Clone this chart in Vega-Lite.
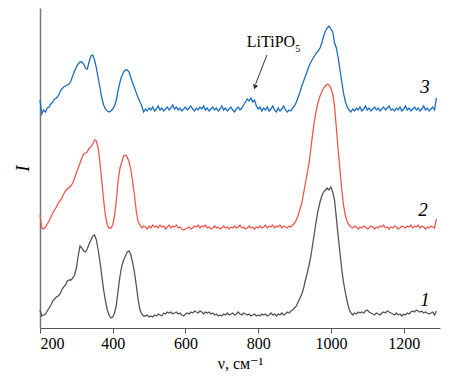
{
  "$schema": "https://vega.github.io/schema/vega-lite/v6.json",
  "width": 400,
  "height": 320,
  "autosize": {"type": "none"},
  "padding": {"left": 40, "top": 8, "right": 22, "bottom": 56},
  "background": "white",
  "config": {"view": {"stroke": null}},
  "datasets": {
    "spectra": [
{"x":200,"a":18,"b":113,"c":228},{"x":205,"a":12,"b":100,"c":214},{"x":210,"a":13,"b":99,"c":218},{"x":215,"a":14,"b":101,"c":216},{"x":220,"a":17,"b":104,"c":220},{"x":225,"a":20,"b":107,"c":221},{"x":230,"a":23,"b":111,"c":224},{"x":235,"a":27,"b":115,"c":226},{"x":240,"a":29,"b":118,"c":229},{"x":245,"a":31,"b":121,"c":230},{"x":250,"a":32,"b":125,"c":232},{"x":255,"a":34,"b":127,"c":236},{"x":260,"a":38,"b":130,"c":239},{"x":265,"a":41,"b":134,"c":241},{"x":270,"a":43,"b":137,"c":242},{"x":275,"a":47,"b":139,"c":243},{"x":280,"a":48,"b":141,"c":244},{"x":285,"a":48,"b":142,"c":247},{"x":290,"a":50,"b":145,"c":252},{"x":295,"a":53,"b":150,"c":257},{"x":300,"a":60,"b":155,"c":261},{"x":305,"a":72,"b":160,"c":264},{"x":310,"a":82,"b":165,"c":266},{"x":315,"a":80,"b":170,"c":266},{"x":320,"a":77,"b":174,"c":264},{"x":325,"a":76,"b":175,"c":260},{"x":330,"a":79,"b":176,"c":259},{"x":335,"a":84,"b":180,"c":266},{"x":340,"a":88,"b":181,"c":272},{"x":345,"a":92,"b":184,"c":273},{"x":350,"a":93,"b":188,"c":268},{"x":355,"a":88,"b":187,"c":260},{"x":360,"a":78,"b":180,"c":250},{"x":365,"a":66,"b":165,"c":240},{"x":370,"a":52,"b":147,"c":230},{"x":375,"a":38,"b":128,"c":223},{"x":380,"a":27,"b":112,"c":219},{"x":385,"a":18,"b":103,"c":217},{"x":390,"a":13,"b":100,"c":216},{"x":395,"a":10,"b":100,"c":217},{"x":400,"a":11,"b":103,"c":219},{"x":405,"a":15,"b":112,"c":222},{"x":410,"a":23,"b":128,"c":228},{"x":415,"a":38,"b":148,"c":238},{"x":420,"a":52,"b":160,"c":246},{"x":425,"a":62,"b":166,"c":252},{"x":430,"a":68,"b":172,"c":256},{"x":435,"a":72,"b":173,"c":258},{"x":440,"a":76,"b":171,"c":258},{"x":445,"a":77,"b":166,"c":256},{"x":450,"a":73,"b":158,"c":250},{"x":455,"a":65,"b":146,"c":245},{"x":460,"a":55,"b":132,"c":240},{"x":465,"a":42,"b":116,"c":235},{"x":470,"a":28,"b":106,"c":230},{"x":475,"a":18,"b":103,"c":226},{"x":480,"a":14,"b":100,"c":222},{"x":485,"a":12,"b":102,"c":216},{"x":490,"a":12,"b":101,"c":219},{"x":495,"a":13,"b":99,"c":217},{"x":500,"a":11,"b":102,"c":220},{"x":505,"a":12,"b":100,"c":218},{"x":510,"a":11,"b":103,"c":221},{"x":515,"a":13,"b":101,"c":217},{"x":520,"a":12,"b":102,"c":219},{"x":525,"a":14,"b":100,"c":222},{"x":530,"a":13,"b":103,"c":218},{"x":535,"a":12,"b":101,"c":220},{"x":540,"a":15,"b":102,"c":217},{"x":545,"a":14,"b":99,"c":219},{"x":550,"a":16,"b":101,"c":221},{"x":555,"a":15,"b":103,"c":218},{"x":560,"a":16,"b":100,"c":220},{"x":565,"a":14,"b":102,"c":223},{"x":570,"a":15,"b":101,"c":219},{"x":575,"a":16,"b":103,"c":221},{"x":580,"a":14,"b":100,"c":218},{"x":585,"a":15,"b":101,"c":220},{"x":590,"a":13,"b":99,"c":217},{"x":595,"a":12,"b":98,"c":219},{"x":600,"a":14,"b":99,"c":221},{"x":605,"a":15,"b":100,"c":218},{"x":610,"a":14,"b":101,"c":220},{"x":615,"a":16,"b":99,"c":222},{"x":620,"a":15,"b":100,"c":219},{"x":625,"a":17,"b":102,"c":217},{"x":630,"a":16,"b":101,"c":220},{"x":635,"a":15,"b":103,"c":218},{"x":640,"a":17,"b":100,"c":221},{"x":645,"a":16,"b":102,"c":219},{"x":650,"a":14,"b":101,"c":222},{"x":655,"a":16,"b":103,"c":218},{"x":660,"a":15,"b":100,"c":220},{"x":665,"a":16,"b":101,"c":217},{"x":670,"a":14,"b":99,"c":219},{"x":675,"a":15,"b":100,"c":221},{"x":680,"a":13,"b":102,"c":218},{"x":685,"a":14,"b":100,"c":220},{"x":690,"a":12,"b":101,"c":217},{"x":695,"a":13,"b":99,"c":219},{"x":700,"a":12,"b":100,"c":222},{"x":705,"a":14,"b":102,"c":218},{"x":710,"a":13,"b":100,"c":220},{"x":715,"a":15,"b":101,"c":217},{"x":720,"a":13,"b":99,"c":219},{"x":725,"a":14,"b":101,"c":221},{"x":730,"a":15,"b":100,"c":218},{"x":735,"a":13,"b":102,"c":216},{"x":740,"a":14,"b":100,"c":219},{"x":745,"a":16,"b":101,"c":221},{"x":750,"a":14,"b":103,"c":218},{"x":755,"a":13,"b":100,"c":220},{"x":760,"a":15,"b":101,"c":223},{"x":765,"a":14,"b":99,"c":226},{"x":770,"a":13,"b":100,"c":229},{"x":775,"a":14,"b":102,"c":227},{"x":780,"a":12,"b":100,"c":230},{"x":785,"a":13,"b":101,"c":226},{"x":790,"a":14,"b":99,"c":228},{"x":795,"a":12,"b":101,"c":222},{"x":800,"a":13,"b":100,"c":219},{"x":805,"a":12,"b":102,"c":221},{"x":810,"a":14,"b":100,"c":217},{"x":815,"a":13,"b":101,"c":220},{"x":820,"a":14,"b":103,"c":218},{"x":825,"a":12,"b":100,"c":221},{"x":830,"a":13,"b":102,"c":217},{"x":835,"a":15,"b":101,"c":219},{"x":840,"a":13,"b":103,"c":222},{"x":845,"a":14,"b":100,"c":218},{"x":850,"a":12,"b":102,"c":216},{"x":855,"a":14,"b":101,"c":220},{"x":860,"a":13,"b":103,"c":217},{"x":865,"a":15,"b":100,"c":219},{"x":870,"a":13,"b":102,"c":222},{"x":875,"a":14,"b":101,"c":218},{"x":880,"a":16,"b":100,"c":216},{"x":885,"a":15,"b":102,"c":218},{"x":890,"a":17,"b":101,"c":217},{"x":895,"a":18,"b":103,"c":220},{"x":900,"a":20,"b":105,"c":222},{"x":905,"a":22,"b":108,"c":226},{"x":910,"a":26,"b":113,"c":231},{"x":915,"a":30,"b":119,"c":236},{"x":920,"a":34,"b":125,"c":242},{"x":925,"a":40,"b":135,"c":247},{"x":930,"a":48,"b":145,"c":252},{"x":935,"a":55,"b":155,"c":257},{"x":940,"a":63,"b":165,"c":262},{"x":945,"a":72,"b":180,"c":266},{"x":950,"a":84,"b":195,"c":269},{"x":955,"a":96,"b":208,"c":272},{"x":960,"a":108,"b":218,"c":275},{"x":965,"a":118,"b":226,"c":277},{"x":970,"a":126,"b":232,"c":280},{"x":975,"a":132,"b":236,"c":285},{"x":980,"a":136,"b":240,"c":292},{"x":985,"a":138,"b":242,"c":297},{"x":990,"a":140,"b":244,"c":300},{"x":995,"a":138,"b":243,"c":302},{"x":1000,"a":141,"b":240,"c":299},{"x":1005,"a":136,"b":234,"c":296},{"x":1010,"a":128,"b":222,"c":285},{"x":1015,"a":110,"b":200,"c":280},{"x":1020,"a":92,"b":178,"c":270},{"x":1025,"a":75,"b":158,"c":258},{"x":1030,"a":58,"b":138,"c":246},{"x":1035,"a":45,"b":122,"c":234},{"x":1040,"a":35,"b":112,"c":226},{"x":1045,"a":26,"b":106,"c":221},{"x":1050,"a":19,"b":103,"c":218},{"x":1055,"a":15,"b":101,"c":216},{"x":1060,"a":13,"b":100,"c":219},{"x":1065,"a":15,"b":102,"c":217},{"x":1070,"a":14,"b":101,"c":220},{"x":1075,"a":16,"b":99,"c":218},{"x":1080,"a":15,"b":101,"c":221},{"x":1085,"a":16,"b":100,"c":217},{"x":1090,"a":15,"b":102,"c":219},{"x":1095,"a":17,"b":101,"c":222},{"x":1100,"a":18,"b":99,"c":218},{"x":1105,"a":16,"b":100,"c":220},{"x":1110,"a":15,"b":102,"c":217},{"x":1115,"a":14,"b":101,"c":219},{"x":1120,"a":13,"b":99,"c":221},{"x":1125,"a":15,"b":101,"c":218},{"x":1130,"a":14,"b":100,"c":220},{"x":1135,"a":13,"b":102,"c":217},{"x":1140,"a":15,"b":101,"c":219},{"x":1145,"a":16,"b":103,"c":221},{"x":1150,"a":15,"b":100,"c":218},{"x":1155,"a":17,"b":101,"c":220},{"x":1160,"a":16,"b":99,"c":222},{"x":1165,"a":15,"b":101,"c":218},{"x":1170,"a":14,"b":100,"c":219},{"x":1175,"a":13,"b":102,"c":217},{"x":1180,"a":15,"b":101,"c":220},{"x":1185,"a":13,"b":99,"c":218},{"x":1190,"a":14,"b":100,"c":221},{"x":1195,"a":12,"b":102,"c":217},{"x":1200,"a":14,"b":101,"c":219},{"x":1205,"a":13,"b":100,"c":222},{"x":1210,"a":15,"b":102,"c":218},{"x":1215,"a":14,"b":101,"c":220},{"x":1220,"a":16,"b":103,"c":217},{"x":1225,"a":17,"b":100,"c":219},{"x":1230,"a":16,"b":102,"c":221},{"x":1235,"a":18,"b":101,"c":218},{"x":1240,"a":17,"b":103,"c":220},{"x":1245,"a":16,"b":100,"c":217},{"x":1250,"a":17,"b":102,"c":219},{"x":1255,"a":15,"b":101,"c":222},{"x":1260,"a":16,"b":99,"c":218},{"x":1265,"a":15,"b":101,"c":220},{"x":1270,"a":14,"b":100,"c":217},{"x":1275,"a":15,"b":102,"c":219},{"x":1280,"a":16,"b":101,"c":221},{"x":1285,"a":13,"b":100,"c":218},{"x":1290,"a":17,"b":109,"c":230}
    ],
    "labels": [
      {"lx": 1259, "ly": 28, "t": "1"},
      {"lx": 1253, "ly": 118, "t": "2"},
      {"lx": 1259, "ly": 241, "t": "3"}
    ],
    "arrow": [{"x1": 824, "y1": 273, "x2": 793, "y2": 244}],
    "head": [{"hx": 791, "hy": 241}]
  },
  "layer": [
    {
      "data": {"name": "spectra"},
      "transform": [{"fold": ["a", "b", "c"], "as": ["s", "v"]}],
      "mark": {"type": "line", "strokeWidth": 1.3, "interpolate": "linear"},
      "encoding": {
        "x": {
          "field": "x", "type": "quantitative",
          "scale": {"domain": [200, 1300], "nice": false, "zero": false},
          "axis": {
            "values": [200, 400, 600, 800, 1000, 1200],
            "format": "d",
            "title": "ν, см⁻¹",
            "grid": false,
            "domainColor": "#555555",
            "tickColor": "#555555",
            "tickSize": 5,
            "labelFont": "Liberation Serif, Times New Roman, DejaVu Serif, serif",
            "labelFontSize": 16,
            "labelColor": "black",
            "labelPadding": 2,
            "titleFont": "Liberation Serif, Times New Roman, DejaVu Serif, serif",
            "titleFontSize": 16,
            "titleFontWeight": "normal",
            "titleColor": "black",
            "titlePadding": 4
          }
        },
        "y": {
          "field": "v", "type": "quantitative",
          "scale": {"domain": [0, 320], "nice": false},
          "axis": {
            "title": "I",
            "ticks": false,
            "labels": false,
            "grid": false,
            "domainColor": "#777777",
            "domainWidth": 1.5,
            "titleFont": "Liberation Serif, Times New Roman, DejaVu Serif, serif",
            "titleFontSize": 19,
            "titleFontStyle": "italic",
            "titleFontWeight": "normal",
            "titleColor": "black",
            "titlePadding": 8
          }
        },
        "color": {
          "field": "s", "type": "nominal",
          "scale": {"domain": ["a", "b", "c"], "range": ["#555555", "#f0584c", "#1b6ec2"]},
          "legend": null
        }
      }
    },
    {
      "data": {"name": "labels"},
      "mark": {"type": "text", "font": "Liberation Serif, Times New Roman, DejaVu Serif, serif", "fontSize": 19, "fontStyle": "italic", "baseline": "middle", "align": "center", "color": "black"},
      "encoding": {
        "x": {"field": "lx", "type": "quantitative"},
        "y": {"field": "ly", "type": "quantitative"},
        "text": {"field": "t"}
      }
    },
    {
      "data": {"values": [{"tx": 835, "ty": 281, "t": "LiTiPO"}]},
      "mark": {"type": "text", "font": "Liberation Serif, Times New Roman, DejaVu Serif, serif", "fontSize": 16, "baseline": "alphabetic", "align": "center", "color": "black"},
      "encoding": {
        "x": {"field": "tx", "type": "quantitative"},
        "y": {"field": "ty", "type": "quantitative"},
        "text": {"field": "t"}
      }
    },
    {
      "data": {"values": [{"tx": 902, "ty": 276, "t": "5"}]},
      "mark": {"type": "text", "font": "Liberation Serif, Times New Roman, DejaVu Serif, serif", "fontSize": 10, "baseline": "alphabetic", "align": "left", "color": "black"},
      "encoding": {
        "x": {"field": "tx", "type": "quantitative"},
        "y": {"field": "ty", "type": "quantitative"},
        "text": {"field": "t"}
      }
    },
    {
      "data": {"name": "arrow"},
      "mark": {"type": "rule", "color": "#333333", "strokeWidth": 1},
      "encoding": {
        "x": {"field": "x1", "type": "quantitative"},
        "y": {"field": "y1", "type": "quantitative"},
        "x2": {"field": "x2"},
        "y2": {"field": "y2"}
      }
    },
    {
      "data": {"name": "head"},
      "mark": {"type": "point", "shape": "triangle-down", "filled": true, "color": "#333333", "size": 30, "angle": 19, "opacity": 1},
      "encoding": {
        "x": {"field": "hx", "type": "quantitative"},
        "y": {"field": "hy", "type": "quantitative"}
      }
    }
  ]
}
